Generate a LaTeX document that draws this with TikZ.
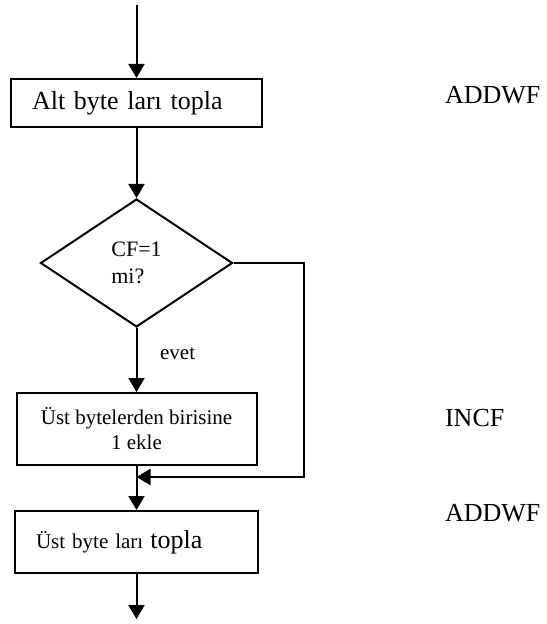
\documentclass[tikz,border=0pt]{standalone}
\usepackage{fontspec}
\setmainfont{Liberation Serif}
\usetikzlibrary{arrows.meta, shapes.geometric}

\begin{document}
\begin{tikzpicture}[
  x=0.5pt, y=-0.5pt,
  flowbox/.style={rectangle, draw=black, line width=1pt, inner sep=0pt},
  decision/.style={diamond, draw=black, line width=1pt, minimum width=96pt, minimum height=64pt, inner sep=0pt, align=left, font=\fontsize{11}{13.5}\selectfont},
  bigtext/.style={font=\fontsize{13}{15}\selectfont},
  smalltext/.style={font=\fontsize{10.5}{12.5}\selectfont},
  instr/.style={anchor=west, font=\fontsize{13}{15}\selectfont},
  arrow/.style={-{Triangle[length=7pt, width=8pt]}, line width=1pt},
  line/.style={line width=1pt}
]
  \useasboundingbox (0,0) rectangle (546,624);

  \node[flowbox, bigtext, text width=104.5pt, inner xsep=10.5pt, minimum height=24pt, align=left] (alt) at (136.5,103) {Alt byte ları topla};
  \node[decision] (cf) at (136.5,263) {CF=1\\mi?};
  \node[flowbox, smalltext, minimum width=120pt, minimum height=36pt, align=center] (ekle) at (136.5,429) {Üst bytelerden birisine\\1 ekle};
  \node[flowbox, smalltext, text width=100.5pt, inner xsep=10.5pt, minimum height=31pt, align=left] (ust) at (136.5,542) {Üst byte ları {\fontsize{13}{15}\selectfont topla}};

  \coordinate (start) at (136.5,5);
  \coordinate (join) at (136.5,477);
  \coordinate (finish) at (136.5,619);

  \draw[arrow] (start) -- (alt.north);
  \draw[arrow] (alt.south) -- (cf.north);
  \draw[arrow] (cf.south) -- node[right=8pt, pos=0.4, font=\fontsize{10.5}{12}\selectfont] (evet) {evet} (ekle.north);
  \draw[arrow] (cf.east) -- ++(70,0) |- (join);
  \draw[arrow] (ekle.south) -- (ust.north);
  \draw[arrow] (ust.south) -- (finish);

  % komutlar
  \node[instr] (add1) at (438,95) {ADDWF};
  \node[instr] (inc) at (438,418) {INCF};
  \node[instr] (add2) at (438,513) {ADDWF};
\end{tikzpicture}
\end{document}
